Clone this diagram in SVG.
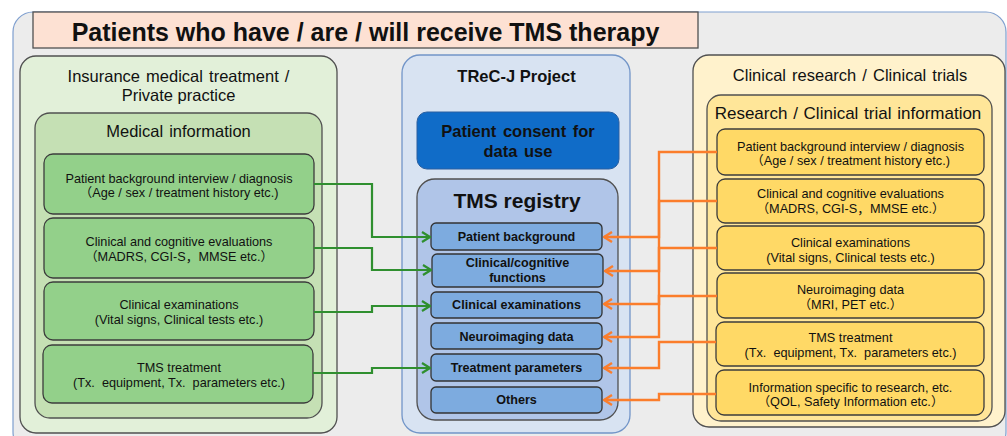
<svg xmlns="http://www.w3.org/2000/svg" width="1007" height="436" viewBox="0 0 1007 436">
<defs>
<style>
.t{font-family:"Liberation Sans","Noto Sans CJK JP",sans-serif;fill:#111;text-anchor:middle}
.h{font-size:16.5px}
.n{font-size:12.7px}
.b{font-weight:bold}
.ri{font-size:12.6px;font-weight:bold}
.box{stroke:#505050;stroke-width:1.3}
.gn{fill:#93d08a;stroke:#3c3c3c;stroke-width:1.3}
.yn{fill:#ffd966;stroke:#3c3c3c;stroke-width:1.3}
.bn{fill:#7dabdf;stroke:#333;stroke-width:1.3}
.cg{fill:none;stroke:#2f8f2f;stroke-width:2.2}
.co{fill:none;stroke:#fb7d2b;stroke-width:2.4}
</style>
<marker id="ag" viewBox="0 0 10 12" refX="9" refY="6" markerWidth="10" markerHeight="12" markerUnits="userSpaceOnUse" orient="auto">
<path d="M1,1 L9,6 L1,11" fill="none" stroke="#2f8f2f" stroke-width="2.2"/>
</marker>
<marker id="ao" viewBox="0 0 10 12" refX="9" refY="6" markerWidth="10" markerHeight="12" markerUnits="userSpaceOnUse" orient="auto">
<path d="M1,1 L9,6 L1,11" fill="none" stroke="#fb7d2b" stroke-width="2.4"/>
</marker>
</defs>
<rect width="1007" height="436" fill="#ffffff"/>
<g id="frame">
<rect x="13" y="12" width="993" height="440" rx="20" fill="#ececec" stroke="#7f9fcf" stroke-width="1.2"/>
</g>
<g id="title">
<rect x="33" y="12" width="665" height="36" fill="#fde1d3" stroke="#505050" stroke-width="1.3"/>
<text class="t b" x="365.5" y="41" font-size="25">Patients who have / are / will receive TMS therapy</text>
</g>
<g id="insurance">
<rect class="box" x="20" y="56" width="317" height="377" rx="16" fill="#e2f0d9"/>
<text class="t h" x="178.5" y="82" word-spacing="1.5">Insurance medical treatment /</text>
<text class="t h" x="178.5" y="101">Private practice</text>
</g>
<g id="medical-info">
<rect class="box" x="35" y="113" width="287" height="305" rx="15" fill="#c5e0b4"/>
<text class="t h" x="178.5" y="137" word-spacing="1.5">Medical information</text>
</g>
<g id="g1"><rect class="gn" x="44" y="154" width="270" height="60" rx="9"/>
<text class="t n" x="179" y="183">Patient background interview / diagnosis</text>
<text class="t n" x="179" y="197">（Age / sex / treatment history etc.)</text></g>
<g id="g2"><rect class="gn" x="44" y="218" width="270" height="60" rx="9"/>
<text class="t n" x="179" y="246">Clinical and cognitive evaluations</text>
<text class="t n" x="179" y="261">（MADRS, CGI-S，MMSE etc.）</text></g>
<g id="g3"><rect class="gn" x="44" y="282" width="270" height="58" rx="9"/>
<text class="t n" x="179" y="309">Clinical examinations</text>
<text class="t n" x="179" y="324">(Vital signs, Clinical tests etc.)</text></g>
<g id="g4"><rect class="gn" x="43" y="345" width="270" height="58" rx="9"/>
<text class="t n" x="179" y="372">TMS treatment</text>
<text class="t n" x="179" y="387">(Tx.&#160; equipment, Tx.&#160; parameters etc.)</text></g>
<g id="trecj">
<rect x="402" y="55" width="228" height="378" rx="18" fill="#d8e3f2" stroke="#7295c8" stroke-width="1.3"/>
<text class="t b" x="516.5" y="82" font-size="16.5">TReC-J Project</text>
</g>
<g id="consent">
<rect x="417" y="112" width="202" height="57" rx="10" fill="#106cc8" stroke="#2a5fa0" stroke-width="1"/>
<text class="t b" x="518" y="137" font-size="16.5" word-spacing="2">Patient consent for</text>
<text class="t b" x="518" y="157" font-size="16.5" word-spacing="2">data use</text>
</g>
<g id="registry">
<rect class="box" x="417" y="179" width="201" height="241" rx="18" fill="#b0c5e8"/>
<text class="t b" x="517" y="208" font-size="21">TMS registry</text>
</g>
<g id="r1"><rect class="bn" x="431" y="223" width="171" height="27" rx="5"/><text class="t ri" x="516.5" y="241">Patient background</text></g>
<g id="r2"><rect class="bn" x="432" y="254" width="171" height="33" rx="5"/><text class="t ri" x="517.5" y="267">Clinical/cognitive</text><text class="t ri" x="517.5" y="282">functions</text></g>
<g id="r3"><rect class="bn" x="431" y="292" width="171" height="26" rx="5"/><text class="t ri" x="516.5" y="309">Clinical examinations</text></g>
<g id="r4"><rect class="bn" x="431" y="323" width="171" height="26" rx="5"/><text class="t ri" x="516.5" y="341">Neuroimaging data</text></g>
<g id="r5"><rect class="bn" x="431" y="354" width="171" height="27" rx="5"/><text class="t ri" x="516.5" y="372">Treatment parameters</text></g>
<g id="r6"><rect class="bn" x="431" y="387" width="171" height="26" rx="5"/><text class="t ri" x="516.5" y="404">Others</text></g>
<g id="clinical-research">
<rect class="box" x="693" y="55" width="312" height="372" rx="16" fill="#fff2cc"/>
<text class="t h" x="850" y="81" word-spacing="1.5">Clinical research / Clinical trials</text>
</g>
<g id="research-info">
<rect class="box" x="707" y="95" width="285" height="326" rx="14" fill="#ffe699"/>
<text class="t" x="848" y="119" font-size="17" word-spacing="1">Research / Clinical trial information</text>
</g>
<g id="y1"><rect class="yn" x="717" y="129" width="267" height="46" rx="8"/>
<text class="t n" x="850.5" y="151">Patient background interview / diagnosis</text>
<text class="t n" x="850.5" y="165">（Age / sex / treatment history etc.)</text></g>
<g id="y2"><rect class="yn" x="717" y="179" width="267" height="44" rx="8"/>
<text class="t n" x="850.5" y="198">Clinical and cognitive evaluations</text>
<text class="t n" x="850.5" y="213">（MADRS, CGI-S，MMSE etc.）</text></g>
<g id="y3"><rect class="yn" x="717" y="226" width="267" height="44" rx="8"/>
<text class="t n" x="850.5" y="247">Clinical examinations</text>
<text class="t n" x="850.5" y="262">(Vital signs, Clinical tests etc.)</text></g>
<g id="y4"><rect class="yn" x="717" y="273" width="267" height="45" rx="8"/>
<text class="t n" x="850.5" y="294">Neuroimaging data</text>
<text class="t n" x="850.5" y="309">（MRI, PET etc.）</text></g>
<g id="y5"><rect class="yn" x="716" y="322" width="268" height="44" rx="8"/>
<text class="t n" x="850.5" y="342">TMS treatment</text>
<text class="t n" x="850.5" y="357">(Tx.&#160; equipment, Tx.&#160; parameters etc.)</text></g>
<g id="y6"><rect class="yn" x="716" y="370" width="268" height="45" rx="8"/>
<text class="t n" x="850.5" y="392">Information specific to research, etc.</text>
<text class="t n" x="850.5" y="406">（QOL, Safety Information etc.）</text></g>
<g id="connectors">
<path class="cg" d="M314,184 H372 V237 H430" marker-end="url(#ag)"/>
<path class="cg" d="M314,248 H372 V270 H431" marker-end="url(#ag)"/>
<path class="cg" d="M314,312 H372 V306 H430" marker-end="url(#ag)"/>
<path class="cg" d="M313,373 H372 V368 H430" marker-end="url(#ag)"/>
<path class="co" d="M717,152 H659 V237 H604" marker-end="url(#ao)"/>
<path class="co" d="M717,201 H659 V271 H605" marker-end="url(#ao)"/>
<path class="co" d="M717,248 H659 V304 H604" marker-end="url(#ao)"/>
<path class="co" d="M717,296 H659 V337 H604" marker-end="url(#ao)"/>
<path class="co" d="M716,342 H659 V368 H604" marker-end="url(#ao)"/>
<path class="co" d="M716,394 H659 V400 H604" marker-end="url(#ao)"/>
</g>
</svg>
